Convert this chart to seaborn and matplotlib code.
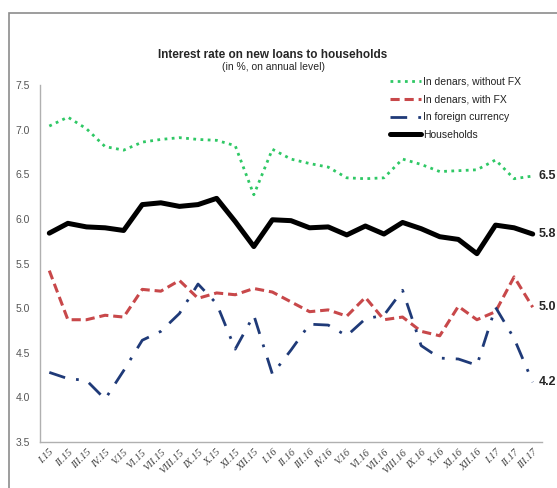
import numpy as np
import pandas as pd
import matplotlib
matplotlib.use('Agg')
import matplotlib.pyplot as plt
import seaborn as sns
from matplotlib.patches import Rectangle

months = ["I.15", "II.15", "III.15", "IV.15", "V.15", "VI.15", "VII.15", "VIII.15", "IX.15",
          "X.15", "XI.15", "XII.15", "I.16", "II.16", "III.16", "IV.16", "V.16", "VI.16",
          "VII.16", "VIII.16", "IX.16", "X.16", "XI.16", "XII.16", "I.17", "II.17", "III.17"]

denars_no_fx = [7.04, 7.14, 7.01, 6.81, 6.77, 6.86, 6.89, 6.91, 6.89, 6.88, 6.82, 6.27, 6.78,
                6.67, 6.62, 6.58, 6.46, 6.45, 6.46, 6.67, 6.61, 6.53, 6.54, 6.55, 6.66, 6.45, 6.48]
denars_fx = [5.42, 4.87, 4.87, 4.92, 4.90, 5.21, 5.19, 5.31, 5.11, 5.17, 5.15, 5.22, 5.18,
             5.07, 4.96, 4.98, 4.91, 5.12, 4.87, 4.90, 4.74, 4.69, 5.02, 4.87, 4.96, 5.35, 5.01]
foreign = [4.28, 4.21, 4.19, 3.98, 4.30, 4.64, 4.74, 4.94, 5.27, 5.05, 4.54, 4.92, 4.26,
           4.53, 4.82, 4.81, 4.69, 4.88, 4.92, 5.20, 4.58, 4.44, 4.43, 4.36, 5.01, 4.66, 4.17]
households = [5.84, 5.95, 5.91, 5.90, 5.87, 6.16, 6.18, 6.14, 6.16, 6.23, 5.97, 5.69, 5.99,
              5.98, 5.90, 5.91, 5.82, 5.92, 5.83, 5.96, 5.89, 5.80, 5.77, 5.61, 5.93, 5.90, 5.83]
end_labels = ["6.5", "5.0", "4.2", "5.8"]

series = [
    ("In denars, without FX", denars_no_fx, "#2fc865", (0, (1, 1.6)), 2.0),
    ("In denars, with FX", denars_fx, "#c8484a", (0, (3, 1.6)), 2.2),
    ("In foreign currency", foreign, "#1f3a78", (0, (6, 4, 1, 4)), 2.0),
    ("Households", households, "black", "solid", 3.6),
]

sns.set_style("white")
font = "Liberation Sans"
fig = plt.figure(figsize=(5.57, 4.88), dpi=100)
ax = fig.add_axes([40 / 557, 1 - 442 / 488, 502 / 557, 357 / 488])

x = np.arange(len(months))
for (name, vals, color, ls, lw), lab in zip(series, end_labels):
    df = pd.DataFrame({"x": x, "y": vals})
    sns.lineplot(data=df, x="x", y="y", ax=ax, color=color, linestyle=ls, linewidth=lw, label=name)
    ax.annotate(lab, xy=(x[-1], vals[-1]), xytext=(4.5, 0), textcoords="offset points",
                ha="left", va="center", fontsize=9, fontweight="bold", family=font,
                annotation_clip=False)

ax.set_xlim(-0.5, len(months) - 0.5)
ax.set_ylim(3.5, 7.5)
ax.set_yticks(np.arange(3.5, 7.51, 0.5))
ax.set_yticklabels([f"{v:.1f}" for v in np.arange(3.5, 7.51, 0.5)], fontsize=7.5, color="#555555",
                   family=font)
ax.set_xticks(x)
ax.set_xticklabels(months, rotation=45, ha="right", rotation_mode="anchor", fontsize=7.5,
                   color="#404040", fontstyle="italic", family="Liberation Serif")
ax.set_xticks(np.arange(-0.5, len(months), 1), minor=True)
ax.tick_params(axis="x", which="major", length=0, pad=4)
ax.tick_params(axis="x", which="minor", length=4, color="#aaaaaa", direction="out")
ax.tick_params(axis="y", length=4, color="#aaaaaa", direction="out", pad=3)
ax.set_xlabel("")
ax.set_ylabel("")
for s in ["top", "right"]:
    ax.spines[s].set_visible(False)
for s in ["left", "bottom"]:
    ax.spines[s].set_color("#b0b0b0")
    ax.spines[s].set_linewidth(1.0)

leg = ax.legend(loc="upper left", bbox_to_anchor=(346 / 502, 1.035), frameon=False,
                prop={"family": font, "size": 7.5}, handlelength=3.0, handletextpad=0.15,
                labelspacing=0.75, borderaxespad=0)
for t in leg.get_texts():
    t.set_color("#222222")

fig.text(273 / 557, 1 - 55 / 488, "Interest rate on new loans to households", ha="center",
         va="center", fontsize=8.5, fontweight="bold", family=font)
fig.text(273 / 557, 1 - 67 / 488, "(in %, on annual level)", ha="center", va="center",
         fontsize=7.5, family=font)

fig.patches.append(Rectangle((9 / 557, -0.05), 1.0, 1 - 13 / 488 + 0.05, transform=fig.transFigure,
                             fill=False, edgecolor="#8c8c8c", linewidth=1.2))

fig.savefig("out.png", dpi=100)
